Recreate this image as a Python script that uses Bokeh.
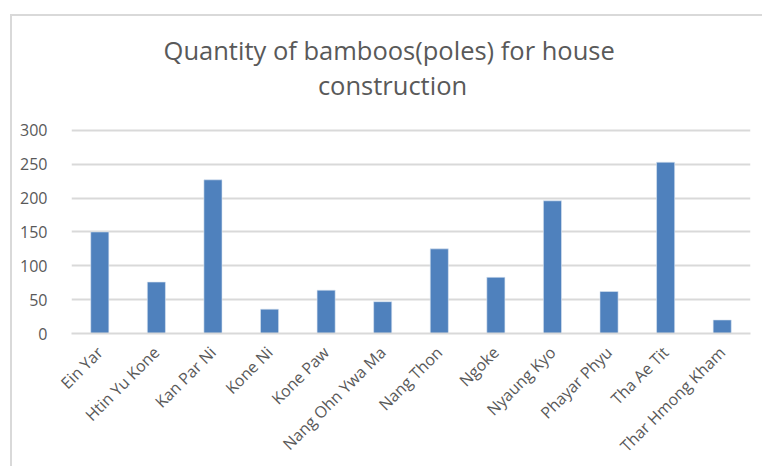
import math
from bokeh.plotting import figure
from bokeh.models import Range1d, FactorRange, FixedTicker, Label
from bokeh.embed import file_html
from bokeh.resources import INLINE

villages = ["Ein Yar", "Htin Yu Kone", "Kan Par Ni", "Kone Ni", "Kone Paw",
            "Nang Ohn Ywa Ma", "Nang Thon", "Ngoke", "Nyaung Kyo",
            "Phayar Phyu", "Tha Ae Tit", "Thar Hmong Kham"]
bamboo_poles = [150, 76, 227, 36, 64, 47, 125, 83, 196, 62, 253, 20]
y_ticks = [0, 50, 100, 150, 200, 250, 300]

title_line1 = "Quantity of bamboos(poles)  for house"
title_line2 = "construction"

TEXT = "#595959"
GRID = "#d9d9d9"
FONT = "Open Sans"

# The plot frame runs up to the top of the canvas so the title can sit inside it;
# the value axis is scaled so that 300 lands 114 px below the frame top.
FRAME_H = 317.3
AXIS_H = 203.3
y_end = y_ticks[-1] * FRAME_H / AXIS_H

p = figure(
    width=752, height=452,
    x_range=FactorRange(*villages, range_padding=0),
    y_range=Range1d(0, y_end),
    output_backend="svg",
    toolbar_location=None,
    min_border_left=59, min_border_right=14, min_border_top=0,
    min_border_bottom=135,
)
p.margin = (14, 0, 0, 10)
p.styles = {"border-top": f"2px solid {GRID}", "border-left": f"2px solid {GRID}"}
p.outline_line_color = None
p.background_fill_color = "white"
p.border_fill_color = "white"

p.vbar(x=villages, top=bamboo_poles, width=0.32,
       fill_color="#4f81bd", line_color="#dce6f2", line_width=0.6)

# two-line title; screen offsets are measured from the bottom-left of the plot
for txt, ypos in [(title_line1, 284), (title_line2, 249)]:
    p.add_layout(Label(text=txt, x=321, y=ypos, x_units="screen", y_units="screen",
                       text_align="center", text_baseline="alphabetic",
                       text_font=FONT, text_font_size="25.5px", text_color=TEXT))

p.yaxis.ticker = FixedTicker(ticks=y_ticks)
p.yaxis.axis_line_color = None
p.yaxis.major_tick_line_color = None
p.yaxis.minor_tick_line_color = None
p.yaxis.major_label_text_font = FONT
p.yaxis.major_label_text_font_size = "16px"
p.yaxis.major_label_text_color = TEXT
p.yaxis.major_label_standoff = 18

p.xaxis.axis_line_color = GRID
p.xaxis.axis_line_width = 2
p.xaxis.major_tick_line_color = None
p.xaxis.minor_tick_line_color = None
p.xaxis.major_label_text_font = FONT
p.xaxis.major_label_text_font_size = "16px"
p.xaxis.major_label_text_color = TEXT
p.xaxis.major_label_orientation = math.pi / 4
p.xaxis.major_label_standoff = 10

p.xgrid.grid_line_color = None
p.ygrid.grid_line_color = GRID
p.ygrid.grid_line_width = 2

open("out.html", "w").write(file_html(p, INLINE))
